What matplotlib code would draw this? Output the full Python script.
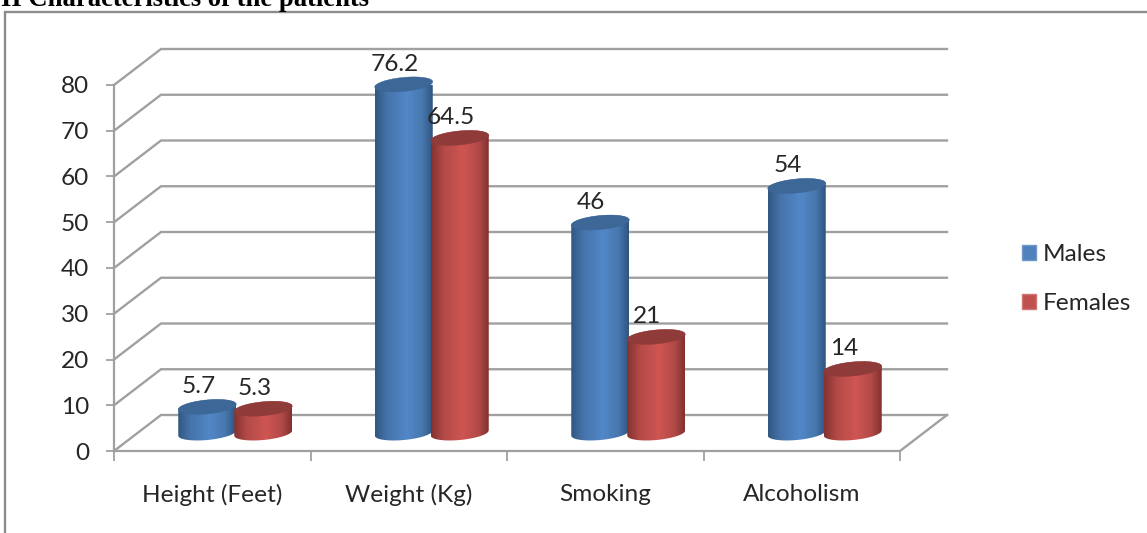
import numpy as np
import matplotlib
matplotlib.use("Agg")
import matplotlib.pyplot as plt
from matplotlib.colors import LinearSegmentedColormap
from matplotlib.lines import Line2D
from matplotlib.patches import Patch, Polygon

categories = ["Height (Feet)", "Weight (Kg)", "Smoking", "Alcoholism"]
males = [5.7, 76.2, 46, 54]
females = [5.3, 64.5, 21, 14]
y_ticks = [0, 10, 20, 30, 40, 50, 60, 70, 80]
heading = "II Characteristics of the patients"

W, H = 1147, 533
FONT = "Lato"
TEXT = "#262626"
GRID = "#a0a0a0"
SIZE = 17.6

plt.rcParams["font.family"] = [FONT, "DejaVu Sans"]
fig = plt.figure(figsize=(W / 100, H / 100), dpi=100)
fig.patch.set_facecolor("white")

# Front plane of the 3-D box, placed in pixels
L, R, B, T = 114, 900, 451, 85
ax = fig.add_axes([L / W, 1 - B / H, (R - L) / W, (B - T) / H])
px_x = (R - L) / 4
px_y = (B - T) / 80

# Depth of the box, in data units
DX, DY = 47 / px_x, 36 / px_y

ax.patch.set_alpha(0)
for s in ("top", "right"):
    ax.spines[s].set_visible(False)
for s in ("left", "bottom"):
    ax.spines[s].set_color(GRID)
    ax.spines[s].set_linewidth(1.6)

# Side wall, back wall gridlines and floor
for v in y_ticks:
    ax.plot([-0.5, -0.5 + DX, 3.5 + DX], [v, v + DY, v + DY], color=GRID,
            lw=1.7, clip_on=False, zorder=1, solid_joinstyle="miter")
ax.plot([3.5, 3.5 + DX], [0, DY], color=GRID, lw=1.7, clip_on=False, zorder=1)

blue_map = LinearSegmentedColormap.from_list(
    "blue", [(0, "#315782"), (0.22, "#4674ab"), (0.55, "#5287c8"),
             (0.82, "#4777ad"), (1, "#2f5481")])
red_map = LinearSegmentedColormap.from_list(
    "red", [(0, "#823230"), (0.22, "#b34a47"), (0.55, "#cf5552"),
            (0.82, "#b24a47"), (1, "#80312f")])
ramp = np.linspace(0, 1, 256)[None, :]


def cylinder(center, value, cmap, cap, order):
    """Shaded cylinder standing halfway back on the floor of the box."""
    a, b, shear = 29.0, 7.0, 0.09
    cx = center + 23 / px_x
    base = 18 / px_y
    t = np.linspace(-1, 1, 121)
    x = cx + a * t / px_x
    low = (-b * np.sqrt(1 - t ** 2) + shear * a * t) / px_y
    high = (b * np.sqrt(1 - t ** 2) + shear * a * t) / px_y
    outline = np.r_[np.c_[x, base + low], np.c_[x[::-1], base + value + high[::-1]]]
    body = ax.imshow(ramp, cmap=cmap, aspect="auto", zorder=order,
                     extent=(x[0], x[-1], base - 12 / px_y, base + value + 12 / px_y))
    body.set_clip_path(Polygon(outline, closed=True, transform=ax.transData))
    th = np.linspace(0, 2 * np.pi, 120)
    ex = a * np.cos(th)
    ey = b * np.sin(th) + shear * ex
    ax.add_patch(Polygon(np.c_[cx + ex / px_x, base + value + ey / px_y],
                         closed=True, facecolor=cap, edgecolor=cap, lw=0.3,
                         clip_on=False, zorder=order + 0.1))
    ax.text(cx - 9 / px_x, base + value + 20 / px_y, f"{value:g}", ha="center",
            va="center", fontsize=SIZE, color=TEXT, zorder=6, clip_on=False)


for i, (m, f) in enumerate(zip(males, females)):
    cylinder(i - 28 / px_x, m, blue_map, "#3c6796", 3)
    cylinder(i + 28 / px_x, f, red_map, "#8f3b39", 4)

# Scales are fixed after the cylinders, since images reset the limits
ax.set_xlim(-0.5, 3.5)
ax.set_ylim(0, 80)
ax.set_yticks(y_ticks)
ax.set_xticks(np.arange(-0.5, 4, 1))
ax.set_xticklabels([])
ax.set_xticks(range(4), categories, minor=True)
ax.tick_params(axis="y", length=6, width=1.3, color=GRID, labelsize=SIZE,
               labelcolor=TEXT, pad=12)
ax.tick_params(axis="x", which="major", length=7, width=1.3, color=GRID)
ax.tick_params(axis="x", which="minor", length=0, labelsize=SIZE,
               labelcolor=TEXT, pad=24)

legend = fig.legend(
    handles=[Patch(facecolor="#4f81bd", edgecolor="#6f97c9", label="Males"),
             Patch(facecolor="#c0504d", edgecolor="#d07572", label="Females")],
    loc="upper left", bbox_to_anchor=(1012.3 / W, 1 - 234.5 / H), frameon=False,
    fontsize=SIZE, handlelength=0.58, handleheight=0.58, handletextpad=0.28,
    labelspacing=1.13, labelcolor=TEXT, borderaxespad=0)

# Outer chart border and the heading cut off by the top edge
fig.add_artist(Line2D([5 / W, 5 / W, 1], [0, 1 - 12 / H, 1 - 12 / H],
                      color="#8c8c8c", lw=1.7, solid_joinstyle="miter"))
fig.text(1 / W, 1 - 6 / H, heading, family="Liberation Serif", weight="bold",
         fontsize=19.2, color="black", ha="left", va="baseline")

fig.savefig("out.png", dpi=100)
